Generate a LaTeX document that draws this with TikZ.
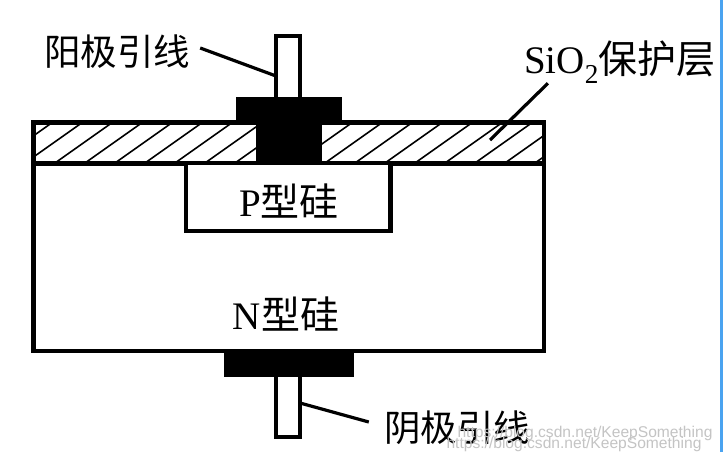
\documentclass[tikz,border=0pt]{standalone}
\usepackage{fontspec}
\setmainfont{Liberation Serif}
\setsansfont{Liberation Sans}
\newfontfamily\cjk{Noto Sans CJK SC}
\usetikzlibrary{calc,positioning}
\definecolor{EdgeBlue}{HTML}{4AA3F0}
\definecolor{MarkGray}{HTML}{C4C4C4}
\begin{document}
\begin{tikzpicture}[
      x=1pt, y=-1pt,
      part/.style={
        draw=black, line width=4.5pt, fill=white, inner sep=0pt, outer sep=0pt
      },
      metal/.style={
        draw=none, fill=black, inner sep=0pt, outer sep=0pt
      },
      tag/.style={
        font=\fontsize{36.5}{36.5}\selectfont, inner sep=0pt, text=black
      },
      bigtag/.style={
        font=\fontsize{39}{39}\selectfont, inner sep=0pt, text=black
      },
      wmark/.style={
        font=\sffamily\fontsize{15.6}{15.6}\selectfont, text=MarkGray, inner sep=0pt
      },
      leader/.style={black, line width=3.2pt}
    ]
      \useasboundingbox (0,0) rectangle (723,452);
      \fill[white] (0,0) rectangle (723,452);
      \fill[EdgeBlue] (720,0) rectangle (723,452);
      % silicon and oxide
      \node[part, minimum width=510.5pt, minimum height=187.5pt] (nsi) at (288.75,257.25) {};
      \node[part, minimum width=510.5pt, minimum height=41pt] (oxide) at (288.75,143) {};
      \begin{scope}
        \clip (oxide.south west) rectangle (oxide.north east);
        \foreach \hx in {-35,-5,...,545}
          \draw[black, line width=1.6pt] (\hx,163) -- (\hx+58,122);
      \end{scope}
      \draw[part, fill=none] (oxide.south west) rectangle (oxide.north east);
      \node[part, minimum width=204.5pt, minimum height=68pt] (psi) at (288.25,197) {};
      % leads and contacts
      \node[part, minimum width=24pt, minimum height=64pt] (toplead) at (288,68) {};
      \node[part, minimum width=24pt, minimum height=64pt] (botlead) at (288,405) {};
      \node[metal, minimum width=106pt, minimum height=26pt] (toppad) at (288.75,110) {};
      \node[metal, minimum width=66pt, minimum height=46pt] (contact) at (289,142) {};
      \node[metal, minimum width=130pt, minimum height=26pt] (botpad) at (288.5,364) {};
      % labels
      \node[tag] (anode) at (117,52) {\cjk 阳极引线};
      \node[tag] (cathode) at (457,428) {\cjk 阴极引线};
      \node[bigtag] (sio) at (620,62) {SiO\textsubscript{2}{\cjk 保护层}};
      \node[bigtag] (plabel) at (289,201) {P{\cjk 型硅}};
      \node[bigtag] (nlabel) at (286,314) {N{\cjk 型硅}};
      \node[wmark] (markone) at (585,433) {https://blog.csdn.net/KeepSomething};
      \node[wmark] (marktwo) at (574,444) {https://blog.csdn.net/KeepSomething};
      % leaders
      \coordinate (anodeend) at (276,76);
      \coordinate (cathodeend) at (300,403);
      \coordinate (sioend) at (490,140);
      \draw[leader] (anode.east)++(10,-4) -- (anodeend);
      \draw[leader] (cathode.west)++(-15,-6) -- (cathodeend);
      \draw[leader] (sio.south west)++(24,0) -- (sioend);
    \end{tikzpicture}
\end{document}
